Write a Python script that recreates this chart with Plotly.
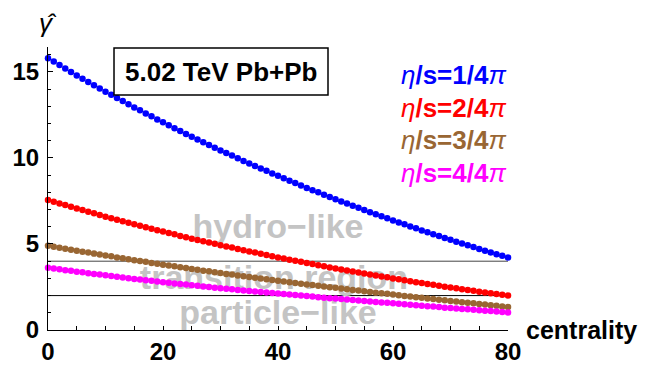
import plotly.graph_objects as go

centrality = list(range(0, 81))

eta_1 = [15.80, 15.60, 15.40, 15.20, 15.00, 14.80,
         14.61, 14.42, 14.23, 14.04, 13.85,
         13.67, 13.49, 13.31, 13.12, 12.94,
         12.77, 12.59, 12.42, 12.24, 12.07,
         11.90, 11.73, 11.57, 11.40, 11.23,
         11.07, 10.91, 10.76, 10.60, 10.44,
         10.29, 10.14, 9.98, 9.83, 9.68,
         9.54, 9.39, 9.25, 9.10, 8.96,
         8.82, 8.68, 8.54, 8.40, 8.26,
         8.13, 8.00, 7.86, 7.73, 7.60,
         7.47, 7.35, 7.22, 7.10, 6.97,
         6.85, 6.73, 6.61, 6.49, 6.37,
         6.25, 6.14, 6.02, 5.91, 5.79,
         5.68, 5.57, 5.46, 5.35, 5.24,
         5.13, 5.03, 4.92, 4.82, 4.71,
         4.61, 4.51, 4.41, 4.31, 4.21]

eta_2 = [7.55, 7.45, 7.35, 7.26, 7.16, 7.06,
         6.97, 6.87, 6.78, 6.68, 6.59,
         6.50, 6.41, 6.32, 6.23, 6.14,
         6.06, 5.97, 5.89, 5.80, 5.72,
         5.64, 5.56, 5.47, 5.39, 5.31,
         5.23, 5.16, 5.08, 5.01, 4.93,
         4.86, 4.79, 4.71, 4.64, 4.57,
         4.50, 4.43, 4.36, 4.29, 4.22,
         4.15, 4.09, 4.02, 3.96, 3.89,
         3.83, 3.77, 3.70, 3.64, 3.58,
         3.52, 3.46, 3.40, 3.34, 3.28,
         3.22, 3.17, 3.11, 3.06, 3.00,
         2.95, 2.89, 2.84, 2.78, 2.73,
         2.68, 2.63, 2.57, 2.52, 2.47,
         2.42, 2.37, 2.33, 2.28, 2.23,
         2.18, 2.14, 2.09, 2.05, 2.00]

eta_3 = [4.90, 4.84, 4.78, 4.73, 4.67, 4.61,
         4.55, 4.50, 4.44, 4.39, 4.33,
         4.28, 4.22, 4.17, 4.11, 4.06,
         4.01, 3.96, 3.90, 3.85, 3.80,
         3.75, 3.70, 3.65, 3.60, 3.55,
         3.50, 3.45, 3.41, 3.36, 3.31,
         3.26, 3.22, 3.17, 3.13, 3.08,
         3.04, 2.99, 2.95, 2.90, 2.86,
         2.82, 2.78, 2.73, 2.69, 2.65,
         2.61, 2.57, 2.53, 2.49, 2.45,
         2.41, 2.37, 2.33, 2.29, 2.25,
         2.21, 2.17, 2.14, 2.10, 2.06,
         2.02, 1.98, 1.94, 1.91, 1.87,
         1.83, 1.80, 1.76, 1.73, 1.69,
         1.65, 1.62, 1.58, 1.55, 1.51,
         1.48, 1.44, 1.41, 1.37, 1.34]

eta_4 = [3.62, 3.57, 3.53, 3.48, 3.44, 3.39,
         3.35, 3.30, 3.26, 3.22, 3.18,
         3.14, 3.09, 3.05, 3.01, 2.97,
         2.93, 2.89, 2.86, 2.82, 2.78,
         2.74, 2.71, 2.67, 2.64, 2.60,
         2.57, 2.53, 2.50, 2.46, 2.43,
         2.40, 2.37, 2.33, 2.30, 2.27,
         2.24, 2.21, 2.18, 2.15, 2.12,
         2.09, 2.06, 2.03, 2.00, 1.97,
         1.94, 1.91, 1.88, 1.85, 1.83,
         1.80, 1.77, 1.74, 1.71, 1.69,
         1.66, 1.63, 1.60, 1.58, 1.55,
         1.52, 1.49, 1.47, 1.44, 1.41,
         1.38, 1.36, 1.33, 1.30, 1.28,
         1.25, 1.22, 1.20, 1.17, 1.15,
         1.12, 1.10, 1.07, 1.05, 1.02]

series_values = [eta_1, eta_2, eta_3, eta_4]
series_labels = ["1/4", "2/4", "3/4", "4/4"]
series_colors = ["#0000FF", "#FF0000", "#996633", "#FF00FF"]

threshold_levels = [4, 2]
region_labels = ["hydro\u2212like", "transition region", "particle\u2212like"]
region_x = [40.0, 39.3, 40.0]
region_y = [5.85, 2.88, 0.87]

x_ticks = [0, 20, 40, 60, 80]
y_ticks = [0, 5, 10, 15]

FONT = "Liberation Sans, Arial, sans-serif"

fig = go.Figure()

# region labels drawn first (behind data)
fig.add_trace(go.Scatter(
    x=region_x, y=region_y, mode="text", text=region_labels,
    textfont=dict(family=FONT, size=34, color="#c4c4c4", weight="bold"),
    hoverinfo="skip", showlegend=False, cliponaxis=False))

for vals, col in zip(series_values, series_colors):
    fig.add_trace(go.Scatter(
        x=centrality, y=vals, mode="markers",
        marker=dict(color=col, size=6.5, line=dict(width=0)),
        showlegend=False, cliponaxis=False))

for lvl, lc in zip(threshold_levels, ["#444444", "#000000"]):
    fig.add_shape(type="line", x0=0, x1=80, y0=lvl, y1=lvl, xref="x", yref="y",
                  line=dict(color=lc, width=1), layer="below")

# text box
fig.add_shape(type="rect", xref="paper", yref="paper",
              x0=0.1435, x1=0.6087, y0=0.830, y1=0.9965,
              line=dict(color="black", width=1.5), fillcolor="white", layer="above")
fig.add_annotation(x=0.376, y=0.913, xref="paper", yref="paper",
                   xanchor="center", yanchor="middle",
                   text="<b>5.02 TeV Pb+Pb</b>", showarrow=False,
                   font=dict(family=FONT, size=26, color="black"))

legend_y = [0.901, 0.786, 0.671, 0.555]
for lab, col, ly in zip(series_labels, series_colors, legend_y):
    fig.add_annotation(x=0.763, y=ly, xref="paper", yref="paper", xanchor="left",
                       yanchor="middle",
                       text="<i>\u03b7</i><b>/s=" + lab + "</b><i>\u03c0</i>",
                       showarrow=False, font=dict(family=FONT, size=26, color=col))

fig.add_annotation(x=1.035, y=0.0, xref="paper", yref="paper", xanchor="left",
                   yanchor="middle", text="<b>centrality</b>", showarrow=False,
                   font=dict(family=FONT, size=25, color="black"))
fig.add_annotation(x=0.0, y=1.085, xref="paper", yref="paper", xanchor="center",
                   yanchor="middle", text="<i>\u03b3\u0302</i>", showarrow=False,
                   font=dict(family=FONT, size=26, color="black"))

fig.update_xaxes(range=[0, 80], tickvals=x_ticks, ticktext=[str(v) for v in x_ticks],
                 ticks="inside", ticklen=4, tickcolor="black", showgrid=False,
                 zeroline=False, showline=True, linecolor="black", linewidth=1,
                 tickfont=dict(family=FONT, size=24, color="black", weight="bold"),
                 minor=dict(tickvals=list(range(5, 80, 5)), ticks="inside", ticklen=4,
                            tickcolor="black"),
                 ticklabelstandoff=0, automargin=False)
fig.update_yaxes(range=[0, 16.45], tickvals=y_ticks, ticktext=[str(v) for v in y_ticks],
                 ticks="inside", ticklen=5, tickcolor="black", showgrid=False,
                 zeroline=False, showline=True, linecolor="black", linewidth=1,
                 tickfont=dict(family=FONT, size=24, color="black", weight="bold"),
                 minor=dict(tickvals=[v for v in range(1, 17) if v % 5 != 0], ticks="inside",
                            ticklen=3, tickcolor="black"),
                 ticklabelstandoff=3, automargin=False)

fig.update_layout(width=649, height=365, margin=dict(l=48, r=141, t=47, b=35, autoexpand=False),
                  plot_bgcolor="white", paper_bgcolor="white", showlegend=False)

fig.write_html("out.html", config={"displayModeBar": False},
               post_script="document.body.style.margin='0px';document.body.style.padding='0px';")
